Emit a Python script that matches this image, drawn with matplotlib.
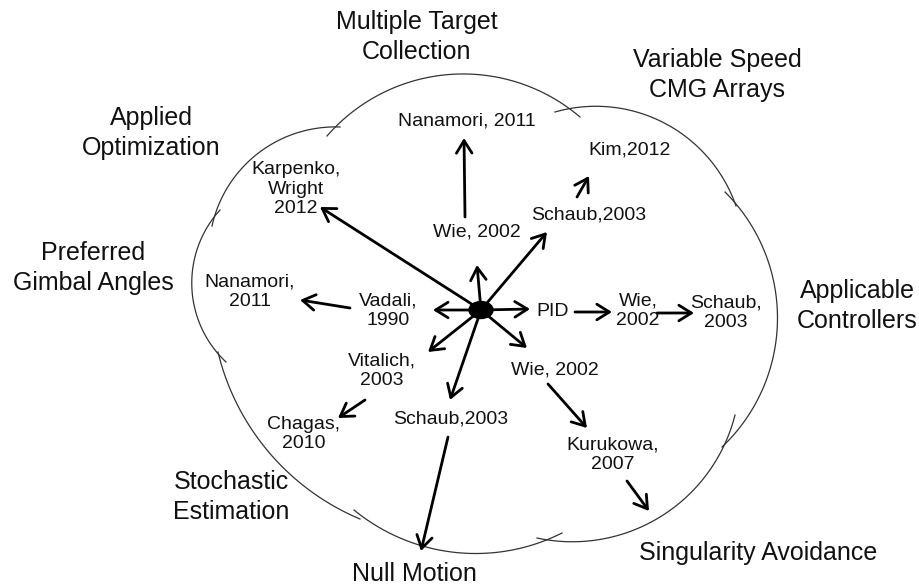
import numpy as np
import matplotlib
matplotlib.use("Agg")
import matplotlib.pyplot as plt
from matplotlib.patches import FancyArrowPatch, Ellipse

plt.rcParams['font.family'] = ['Liberation Sans', 'DejaVu Sans']

# --- diagram content (pixel coordinates, y downwards) ---
topic_labels = ["Multiple Target\nCollection", "Variable Speed\nCMG Arrays",
                "Applied\nOptimization", "Preferred\nGimbal Angles",
                "Applicable\nControllers", "Stochastic\nEstimation",
                "Null Motion", "Singularity Avoidance"]
topic_pos = [(417, 37), (717, 75), (151, 133), (93, 268),
             (857, 306), (231, 497), (414, 574), (758, 553)]

ref_labels = ["Nanamori, 2011", "Kim,2012", "Karpenko,\nWright\n2012", "Wie, 2002",
              "Schaub,2003", "Nanamori,\n2011", "Vadali,\n1990", "PID", "Wie,\n2002",
              "Schaub,\n2003", "Vitalich,\n2003", "Wie, 2002", "Chagas,\n2010",
              "Schaub,2003", "Kurukowa,\n2007"]
ref_pos = [(467, 121), (630, 150), (296, 189), (477, 232), (589, 215),
           (250, 292), (388, 311), (553, 311), (638, 311), (726, 313),
           (382, 371), (555, 370), (304, 434), (451, 419), (613, 455)]

hub = (481, 310)
hub_targets = [(320, 207), (477, 265), (547, 232), (530, 309),
               (433, 310), (428, 352), (527, 348), (450, 400)]

chain_arrows = [((465, 217), (464, 138)), ((577, 197), (589, 176)),
                ((350, 308), (300, 300)), ((365, 400), (338, 418)),
                ((448, 437), (421, 551)), ((575, 312), (612, 312)),
                ((657, 313), (694, 313)), ((548, 384), (587, 428)),
                ((627, 481), (649, 511))]

# cloud outline: each scallop is a circular arc through three points
cloud_arcs = [((212, 226), (267, 147), (340, 127)),
              ((327, 136), (460, 74), (580, 117)),
              ((555, 112), (690, 140), (736, 206)),
              ((725, 192), (777, 305), (722, 447)),
              ((735, 415), (660, 517), (537, 538)),
              ((562, 533), (430, 548), (354, 510)),
              ((360, 519), (267, 450), (218, 352)),
              ((226, 362), (192, 290), (220, 210))]


def arc_points(p1, p2, p3, n=120):
    """圆弧：过三点"""
    (x1, y1), (x2, y2), (x3, y3) = p1, p2, p3
    d = 2 * (x1 * (y2 - y3) + x2 * (y3 - y1) + x3 * (y1 - y2))
    ux = ((x1**2 + y1**2) * (y2 - y3) + (x2**2 + y2**2) * (y3 - y1) + (x3**2 + y3**2) * (y1 - y2)) / d
    uy = ((x1**2 + y1**2) * (x3 - x2) + (x2**2 + y2**2) * (x1 - x3) + (x3**2 + y3**2) * (x2 - x1)) / d
    r = np.hypot(x1 - ux, y1 - uy)
    a1 = np.arctan2(y1 - uy, x1 - ux)
    a2 = np.arctan2(y2 - uy, x2 - ux)
    a3 = np.arctan2(y3 - uy, x3 - ux)
    d13 = (a3 - a1) % (2 * np.pi)
    d12 = (a2 - a1) % (2 * np.pi)
    if d12 < d13:
        t = np.linspace(a1, a1 + d13, n)
    else:
        t = np.linspace(a1, a1 - (2 * np.pi - d13), n)
    return ux + r * np.cos(t), uy + r * np.sin(t)


def add_arrow(ax, tail, head):
    arr = FancyArrowPatch(tail, head, arrowstyle='->,head_length=0.45,head_width=0.28',
                          mutation_scale=20, lw=2.0, color='black',
                          shrinkA=0, shrinkB=0, zorder=3)
    ax.add_patch(arr)


fig = plt.figure(figsize=(9.2, 5.88), dpi=100)
ax = fig.add_axes([0, 0, 1, 1])
ax.set_xlim(0, 920)
ax.set_ylim(588, 0)
ax.axis('off')

for p1, p2, p3 in cloud_arcs:
    xs, ys = arc_points(p1, p2, p3)
    ax.plot(xs, ys, color='#333333', lw=0.9, zorder=1)

for tgt in hub_targets:
    add_arrow(ax, hub, tgt)
for tail, head in chain_arrows:
    add_arrow(ax, tail, head)

ax.add_patch(Ellipse(hub, 24, 17, color='black', zorder=4))

for txt, (x, y) in zip(topic_labels, topic_pos):
    ax.text(x, y, txt, fontsize=18, ha='center', va='center',
            linespacing=1.3, color='#111111')

for txt, (x, y) in zip(ref_labels, ref_pos):
    ax.text(x, y, txt, fontsize=14, ha='center', va='center',
            linespacing=1.2, color='#111111', zorder=5)

fig.savefig('out.png', dpi=100)
